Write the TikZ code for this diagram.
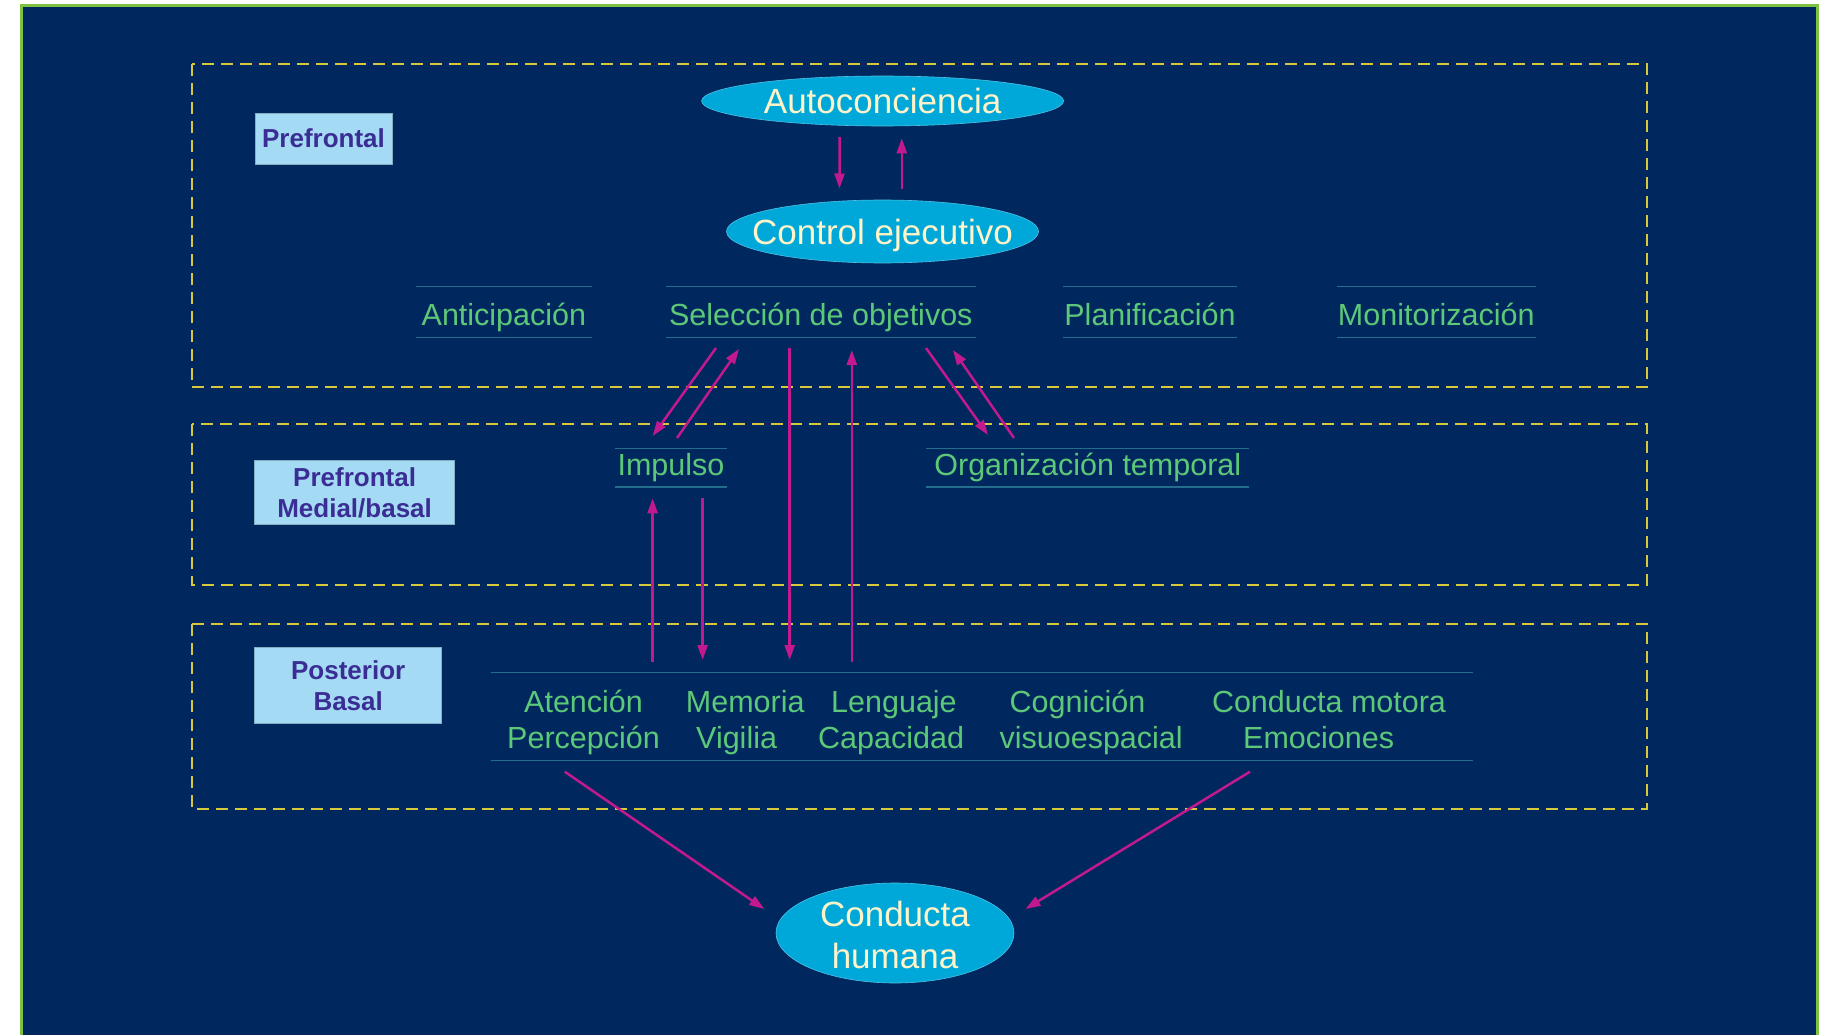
\documentclass[tikz,border=0pt]{standalone}
\usepackage{fontspec}
\setmainfont{Liberation Sans}
\usetikzlibrary{shapes.geometric,arrows.meta,calc}
\definecolor{navy}{HTML}{00285F}
\definecolor{frameg}{HTML}{7DC242}
\definecolor{dashy}{HTML}{D8C83C}
\definecolor{cyanfill}{HTML}{00A8DA}
\definecolor{cream}{HTML}{FFF3C8}
\definecolor{greentxt}{HTML}{5CC878}
\definecolor{rulec}{HTML}{236E8C}
\definecolor{lblfill}{HTML}{A4DAF4}
\definecolor{lbltxt}{HTML}{3A2D94}
\definecolor{mag}{HTML}{C21A8E}
\begin{document}
\begin{tikzpicture}[x=1pt,y=-1pt,
 region/.style={draw=dashy, line width=2.5pt, dash pattern=on 12pt off 7pt},
 oval/.style={ellipse, fill=cyanfill, draw=cyanfill!70!white, line width=0.6pt, inner sep=0pt},
 ovaltext/.style={text=cream, font=\fontsize{35}{42}\selectfont, align=center, inner sep=0pt},
 lbl/.style={rectangle, fill=lblfill, draw=lblfill!80!black, line width=0.5pt, text=lbltxt, font=\fontsize{26}{31}\selectfont\bfseries, align=center, inner sep=0pt},
 func/.style={rectangle, inner sep=0pt, text=greentxt, font=\fontsize{30.5}{37}\selectfont},
 rowone/.style={func, minimum height=50pt, text height=38pt, text depth=12pt},
 rowtwo/.style={func, minimum height=37.7pt, text height=26pt, text depth=11.7pt},
 rule/.style={draw=rulec, line width=1.2pt},
 arr/.style={draw=mag, line width=2.5pt, -{Triangle[length=15pt,width=10pt]}},
 word/.style={text=greentxt, font=\fontsize{30.5}{37}\selectfont, inner sep=0pt, anchor=base west}
]
\useasboundingbox (0,0) rectangle (1828,1035);
\fill[white] (0,0) rectangle (1828,1035);
\fill[navy] (21,6) rectangle (1817,1036);
\draw[frameg, line width=3pt] (21,1040) -- (21,6) -- (1817,6) -- (1817,1040);

% regions
\draw[region] (192,64) rectangle (1647,387);
\draw[region] (192,424) rectangle (1647,585);
\draw[region] (192,624) rectangle (1647,809);

% labels
\node[lbl, minimum width=137pt, minimum height=51pt] (lpre) at (323.5,138.5) {Prefrontal};
\node[lbl, minimum width=200pt, minimum height=63.6pt] (lmed) at (354.6,492.5) {Prefrontal\\Medial/basal};
\node[lbl, minimum width=187pt, minimum height=75.6pt] (lpos) at (348.2,685.5) {Posterior\\Basal};

% ellipses
\node[oval, minimum width=362pt, minimum height=50pt,
  label={[ovaltext, text height=25pt, text depth=0pt]center:Autoconciencia}] (auto) at (882.6,101) {};
\node[oval, minimum width=312pt, minimum height=63pt,
  label={[ovaltext, text height=25pt, text depth=0pt]center:Control ejecutivo}] (ctrl) at (882.5,231.5) {};
\node[oval, minimum width=238pt, minimum height=100pt,
  label={[ovaltext, yshift=-2pt]center:Conducta\\humana}] (hum) at (895,933) {};

% row 1
\node[rowone, minimum width=175pt] (ant) at (503.9,312) {Anticipación};
\node[rowone, minimum width=310pt] (sel) at (820.8,312) {Selección de objetivos};
\node[rowone, minimum width=174.5pt] (pla) at (1150,312) {Planificación};
\node[rowone, minimum width=198.6pt] (mon) at (1436.3,312) {Monitorización};
\foreach \n in {ant,sel,pla,mon}{
  \draw[rule] (\n.north west) -- (\n.north east);
  \draw[rule] (\n.south west) -- (\n.south east);
}

% row 2
\node[rowtwo, minimum width=112.5pt] (imp) at (671,467.85) {Impulso};
\node[rowtwo, minimum width=322.4pt] (org) at (1087.8,467.85) {Organización temporal};
\foreach \n in {imp,org}{
  \draw[rule] (\n.north west) -- (\n.north east);
  \draw[rule] (\n.south west) -- (\n.south east);
}

% row 3
\node[rectangle, inner sep=0pt, minimum width=982pt, minimum height=87.7pt] (post) at (981.8,716.2) {};
\draw[rule] (post.north west) -- (post.north east);
\draw[rule] (post.south west) -- (post.south east);
\node[word] (w1) at (524,712) {Atención};
\node[word] (w2) at (507,748) {Percepción};
\node[word] (w3) at (685.7,712) {Memoria};
\node[word] (w4) at (696,748) {Vigilia};
\node[word] (w5) at (831,712) {Lenguaje};
\node[word] (w6) at (818,748) {Capacidad};
\node[word] (w7) at (1009.5,712) {Cognición};
\node[word] (w8) at (999.4,748) {visuoespacial};
\node[word] (w9) at (1211.8,712) {Conducta motora};
\node[word] (w10) at (1243,748) {Emociones};

% arrows
\draw[arr] ($(auto.center)+(-43,36)$) -- ($(ctrl.center)+(-43,-43)$);
\draw[arr] ($(ctrl.center)+(19.3,-42.2)$) -- ($(auto.center)+(19.2,37.3)$);

\draw[arr] ($(sel.center)+(-104.8,36)$) -- ($(imp.center)+(-18.4,-31.85)$);
\draw[arr] ($(imp.center)+(6,-29.85)$) -- ($(sel.center)+(-81.8,37)$);

\draw[arr] ($(sel.center)+(-31.1,36)$) -- ($(post.center)+(-192.1,-56.2)$);
\draw[arr] ($(post.center)+(-130,-54.5)$) -- ($(sel.center)+(31,38)$);

\draw[arr] ($(post.center)+(-329.2,-54.5)$) -- ($(imp.center)+(-18.4,30.45)$);
\draw[arr] ($(imp.center)+(31.6,29.85)$) -- ($(post.center)+(-279.2,-56.2)$);

\draw[arr] ($(sel.center)+(105.2,36)$) -- ($(org.center)+(-99.8,-32.85)$);
\draw[arr] ($(org.center)+(-73.8,-29.85)$) -- ($(sel.center)+(132.2,38)$);

\draw[arr] ($(post.center)+(-417,55.5)$) -- ($(hum.center)+(-130.7,-24)$);
\draw[arr] ($(post.center)+(268.2,55.5)$) -- ($(hum.center)+(130.5,-24)$);
\end{tikzpicture}
\end{document}
